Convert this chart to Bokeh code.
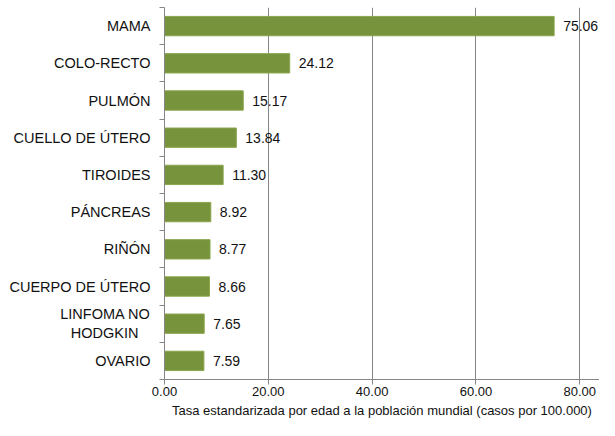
from bokeh.plotting import figure
from bokeh.models import ColumnDataSource, FixedTicker, Range1d, LabelSet
from bokeh.core.properties import value
from bokeh.embed import file_html
from bokeh.resources import INLINE

categories = ["MAMA", "COLO-RECTO", "PULMÓN", "CUELLO DE ÚTERO", "TIROIDES",
              "PÁNCREAS", "RIÑÓN", "CUERPO DE ÚTERO", "LINFOMA NO\nHODGKIN\u00a0\u00a0\u00a0", "OVARIO"]
values = [75.06, 24.12, 15.17, 13.84, 11.30, 8.92, 8.77, 8.66, 7.65, 7.59]
x_ticks = [0, 20, 40, 60, 80]
x_title = "Tasa estandarizada por edad a la población mundial (casos por 100.000)"

FONT = "Liberation Sans"
GRAY = "#868686"

pos = list(range(len(categories)))
src = ColumnDataSource(dict(y=pos, v=values, lab=[f"{v:.2f}" for v in values]))

p = figure(width=599, height=420, output_backend="svg", toolbar_location=None,
           x_range=Range1d(0, 83.8), y_range=Range1d(len(categories) - 0.5, -0.5),
           min_border_left=164, min_border_right=0, min_border_top=7, min_border_bottom=41)
p.outline_line_color = None

p.hbar(y="y", right="v", left=0, height=0.52, source=src,
       fill_color="#77933C", line_color="#8AA64E", line_width=1)

labels = LabelSet(x="v", y="y", text="lab", source=src, x_offset=9,
                  text_baseline="middle", text_font=value(FONT), text_font_size="14px",
                  text_color="#111111")
p.add_layout(labels)

# x axis
p.xaxis.ticker = FixedTicker(ticks=x_ticks)
p.xaxis.major_label_overrides = {t: f"{t:.2f}" for t in x_ticks}
p.xaxis.axis_line_color = GRAY
p.xaxis.major_tick_line_color = GRAY
p.xaxis.major_tick_out = 5
p.xaxis.major_tick_in = 0
p.xaxis.minor_tick_line_color = None
p.xaxis.major_label_text_font = FONT
p.xaxis.major_label_text_font_size = "13px"
p.xaxis.major_label_text_color = "#111111"
p.xaxis.major_label_standoff = 2
p.xaxis.axis_label = x_title
p.xaxis.axis_label_text_font = FONT
p.xaxis.axis_label_text_font_style = "normal"
p.xaxis.axis_label_text_font_size = "13px"
p.xaxis.axis_label_text_color = "#111111"
p.xaxis.axis_label_standoff = 4

# y axis
p.yaxis.ticker = FixedTicker(ticks=pos, minor_ticks=[i - 0.5 for i in range(len(categories) + 1)])
p.yaxis.major_label_overrides = {i: c for i, c in zip(pos, categories)}
p.yaxis.axis_line_color = GRAY
p.yaxis.major_tick_out = 0
p.yaxis.major_tick_in = 0
p.yaxis.major_tick_line_color = None
p.yaxis.minor_tick_line_color = GRAY
p.yaxis.minor_tick_out = 5
p.yaxis.minor_tick_in = 0
p.yaxis.major_label_text_font = FONT
p.yaxis.major_label_text_font_size = "14.5px"
p.yaxis.major_label_text_color = "#111111"
p.yaxis.major_label_standoff = 9

p.ygrid.grid_line_color = None
p.xgrid.grid_line_color = GRAY
p.xgrid.grid_line_width = 1

open("out.html", "w").write(file_html(p, INLINE))
